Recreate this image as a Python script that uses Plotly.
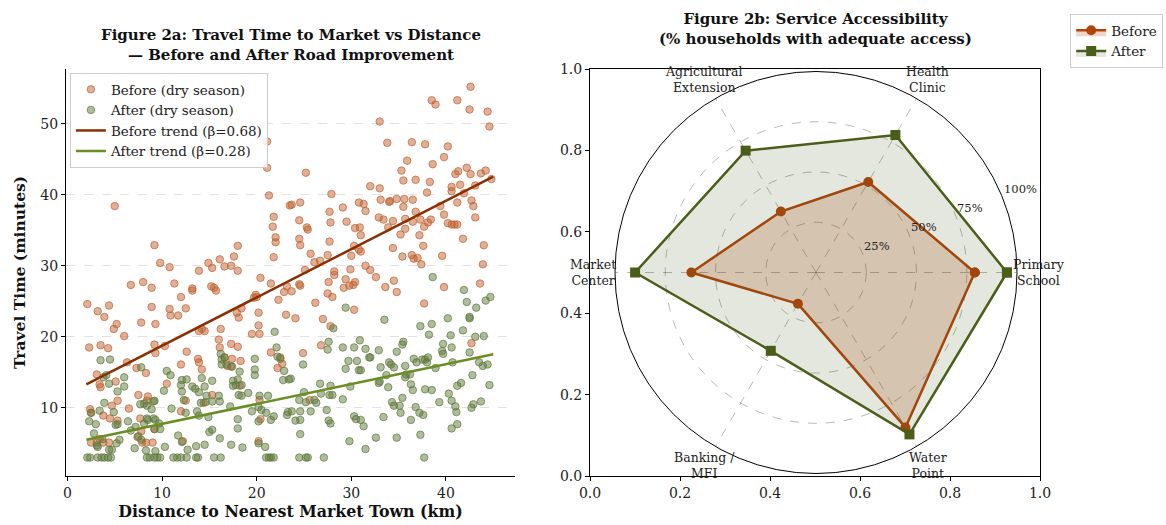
import math
import plotly.graph_objects as go

# ---------------- data: Figure 2a (scatter) ----------------
before_points = [
    (2.1,24.6),(3.2,23.6),(3.9,22.8),(4.4,24.4),(4.9,21.1),(5.2,21.8),(6.0,20.1),(7.8,22.0),(8.9,24.2),(9.3,21.8),
    (2.3,18.5),(3.5,18.8),(4.3,18.4),(3.1,14.7),(3.4,13.3),(3.5,12.9),(5.1,13.7),(6.3,16.4),(7.3,15.6),(8.3,14.9),
    (7.5,11.8),(8.5,11.6),(8.4,11.0),(5.3,11.0),(4.7,10.3),(2.4,9.8),(2.5,9.3),(3.8,8.9),(4.5,8.5),(5.3,8.2),
    (6.5,9.9),(7.7,8.5),(7.8,6.7),(2.5,5.1),(3.1,5.1),(3.4,5.6),(3.8,5.1),(4.4,5.1),(7.4,5.9),(7.9,5.1),
    (8.3,5.1),(9.0,5.1),(9.2,7.0),(10.5,13.4),(10.3,18.7),(9.3,17.7),(9.2,18.9),(10.8,23.9),(10.9,23.0),(11.7,23.0),
    (12.5,24.0),(13.2,26.5),(12.0,25.6),(12.0,16.1),(12.6,17.9),(12.0,9.5),(12.5,11.0),(12.2,5.3),(13.8,16.9),(13.9,16.4),
    (14.2,15.4),(14.4,10.7),(13.9,20.8),(14.2,21.1),(14.5,20.8),(15.5,26.9),(15.7,26.5),(15.2,27.1),(16.2,21.1),(16.0,19.6),
    (16.1,18.5),(15.3,11.8),(16.6,17.1),(16.9,15.9),(17.3,15.8),(17.3,19.0),(18.0,18.6),(17.4,16.9),(18.3,16.6),(18.2,13.1),
    (17.9,23.4),(18.1,22.7),(18.4,24.0),(19.5,20.4),(20.3,20.4),(20.2,21.6),(20.2,23.4),(20.0,25.6),(19.9,25.9),(22.5,17.1),
    (22.7,16.2),(21.5,17.8),(22.2,15.6),(20.2,5.3),(20.4,8.4),(23.2,27.1),(22.9,26.3),(22.3,25.2),(23.1,23.1),(20.3,11.1),
    (5.0,38.4),(9.2,32.9),(9.8,30.4),(10.8,29.8),(11.3,27.5),(6.7,27.3),(8.0,27.7),(8.9,26.9),(13.9,29.3),(14.9,30.4),
    (15.3,29.7),(16.1,30.9),(16.6,29.9),(17.3,30.0),(17.6,31.3),(18.0,32.8),(18.0,29.3),(13.2,26.8),(20.4,28.3),(21.1,47.5),
    (21.1,43.8),(21.3,39.9),(21.8,36.9),(21.7,35.5),(22.0,34.0),(22.0,33.3),(21.8,31.2),(21.5,27.5),(23.5,38.5),(25.2,43.1),
    (24.6,38.9),(23.7,38.6),(24.5,36.4),(25.3,35.4),(25.4,35.1),(24.5,33.8),(24.6,32.9),(25.7,31.7),(25.1,29.4),(24.5,27.4),
    (27.9,40.1),(27.7,37.6),(27.8,36.1),(27.7,33.4),(27.5,31.5),(26.1,30.5),(26.7,30.7),(28.2,29.2),(28.2,28.7),(27.6,27.7),
    (29.1,38.2),(29.5,36.2),(30.4,35.3),(30.9,35.4),(31.0,34.3),(30.8,38.9),(31.3,38.7),(31.5,37.7),(30.3,32.8),(30.8,32.3),
    (31.0,32.0),(30.0,31.4),(29.4,28.1),(29.9,29.5),(29.2,26.9),(29.8,27.2),(30.4,27.7),(31.5,30.0),(32.0,29.4),(32.6,28.4),
    (32.0,41.2),(33.0,40.9),(33.0,50.3),(33.8,47.3),(33.1,39.3),(34.0,39.0),(34.1,39.1),(34.8,39.4),(32.9,36.8),(33.4,36.5),
    (34.4,36.3),(33.9,35.4),(35.2,34.4),(35.7,35.2),(34.4,32.5),(35.4,31.3),(36.4,31.5),(36.6,31.0),(37.0,31.1),(37.4,30.2),
    (33.6,27.0),(34.5,27.9),(35.3,43.4),(35.9,44.8),(35.5,42.0),(36.8,42.1),(36.4,47.4),(35.6,39.4),(36.5,39.3),(35.5,38.3),
    (35.7,36.6),(36.5,36.2),(36.8,37.6),(37.3,36.5),(37.7,35.5),(38.1,36.1),(38.4,36.5),(37.2,34.3),(37.6,32.8),(37.8,47.1),
    (38.6,44.3),(38.3,41.8),(38.0,40.3),(38.5,53.3),(38.9,52.7),(41.2,53.3),(42.6,55.2),(42.5,52.0),(44.4,51.7),(44.6,49.6),
    (40.2,46.8),(39.8,45.3),(39.4,38.4),(39.8,37.2),(40.2,36.0),(40.6,35.8),(40.9,35.8),(41.2,35.8),(40.6,41.1),(40.6,40.5),
    (41.0,42.9),(41.3,43.3),(42.2,43.8),(42.6,42.9),(43.7,43.0),(44.2,43.4),(44.8,42.2),(41.5,41.4),(41.9,40.2),(41.2,38.9),
    (42.7,39.2),(42.9,38.4),(43.1,36.8),(43.1,41.3),(41.8,33.8),(39.6,31.4),(44.0,32.9),(43.9,30.2),(43.6,27.5),(39.8,27.0),
    (24.6,27.2),(23.7,26.4),(30.2,27.3),(27.5,26.1),(28.0,25.6),(26.2,24.8),(34.8,26.3),(37.7,24.7),(24.1,22.6),(27.0,22.5),
    (27.8,21.5),(30.3,23.8),(26.8,18.8),(24.9,17.7),(42.7,19.1),(25.6,11.1),(19.7,25.5),
]
after_points = [
    (2.1,3.0),(2.4,3.0),(3.2,3.0),(3.6,3.0),(3.9,3.0),(4.3,3.0),(4.6,3.0),(8.4,3.0),(8.7,3.0),(9.2,3.0),
    (9.5,3.0),(9.8,3.0),(11.2,3.0),(11.6,3.0),(12.0,3.0),(12.6,3.0),(13.6,3.0),(13.8,3.0),(15.5,3.0),(16.2,3.0),
    (21.0,3.0),(21.3,3.0),(21.5,3.0),(21.8,3.0),(24.5,3.0),(25.2,3.0),(25.4,3.0),(27.1,3.0),(37.7,3.0),
    (3.5,16.7),(4.5,16.8),(4.1,14.6),(4.4,13.4),(3.8,14.3),(6.0,14.3),(6.0,13.0),(5.3,12.3),(3.9,10.7),(3.4,9.6),
    (2.5,9.3),(2.3,8.1),(3.0,7.7),(4.9,9.4),(5.1,7.6),(5.3,7.7),(2.8,6.4),(3.7,5.6),(3.1,4.7),(3.2,4.5),
    (4.4,4.1),(4.7,4.1),(5.2,5.0),(5.5,5.5),(6.4,8.1),(6.7,6.8),(7.2,7.3),(8.1,7.8),(8.5,8.3),(9.1,8.5),
    (9.3,8.3),(9.2,7.0),(9.8,7.0),(9.7,7.8),(7.1,4.3),(7.5,6.0),(7.8,5.5),(8.3,4.0),(9.3,3.9),(7.8,15.7),
    (8.1,10.6),(8.4,10.3),(7.7,10.5),(9.1,10.9),(9.2,11.0),(8.9,9.8),(8.4,8.5),(10.2,12.4),(10.5,15.2),(10.9,14.6),
    (10.3,4.5),(11.0,9.9),(11.7,6.1),(12.1,5.2),(12.1,13.9),(12.0,13.2),(12.6,14.0),(12.1,12.3),(12.3,11.1),(12.5,9.3),
    (12.7,4.1),(13.2,13.0),(13.5,12.7),(13.9,12.2),(14.2,14.2),(14.5,13.0),(14.1,10.7),(14.6,10.8),(14.7,11.7),(13.7,9.5),
    (13.9,8.9),(14.9,8.7),(13.6,4.6),(14.5,4.8),(15.3,13.8),(15.3,10.9),(16.0,11.7),(15.3,6.9),(15.0,6.6),(16.1,5.7),
    (16.2,17.6),(16.3,16.8),(16.6,17.1),(16.3,16.1),(16.8,16.1),(17.4,15.8),(17.5,13.8),(18.0,14.0),(18.2,15.1),(16.1,10.9),
    (17.2,10.2),(17.5,13.1),(17.8,13.2),(18.1,11.8),(18.4,13.2),(18.0,8.4),(18.0,7.1),(17.3,4.8),(18.5,4.4),(19.1,12.1),
    (18.4,11.7),(19.5,9.5),(19.8,15.4),(19.8,14.6),(19.8,16.9),(20.3,11.7),(20.2,10.1),(20.5,9.7),(20.2,8.1),(20.9,4.5),
    (20.2,5.0),(21.0,9.3),(21.2,11.7),(21.5,8.3),(21.8,8.8),(21.9,20.7),(22.1,18.5),(22.2,17.2),(22.5,16.9),(22.8,13.9),
    (23.4,14.0),(22.9,15.2),(23.2,9.0),(23.3,9.4),(23.6,14.1),(24.9,16.1),(25.0,12.2),(24.5,11.1),(25.2,10.8),(25.7,9.5),
    (26.1,11.1),(26.3,10.7),(23.7,9.5),(24.6,9.5),(24.1,8.2),(24.6,8.3),(24.6,6.3),(26.7,13.4),(26.8,12.0),(27.4,9.7),
    (27.6,8.2),(27.8,7.8),(27.7,11.8),(28.0,11.8),(27.8,13.1),(28.1,21.2),(27.6,19.3),(27.5,18.2),(29.4,24.1),(29.1,18.5),
    (29.1,11.2),(29.4,15.5),(29.7,16.6),(29.9,13.0),(29.8,5.3),(30.3,8.8),(30.5,8.4),(31.0,8.3),(31.3,7.4),(31.5,4.2),
    (30.3,18.5),(30.9,19.5),(30.6,16.6),(30.8,15.3),(31.0,15.3),(31.5,18.3),(31.9,17.1),(32.0,17.1),(32.9,18.1),(33.1,15.7),
    (33.0,13.7),(32.9,13.5),(33.5,22.4),(32.6,5.8),(33.4,8.7),(33.9,12.9),(33.7,14.6),(34.0,16.4),(34.2,16.1),(34.5,15.7),
    (34.8,17.9),(35.5,19.3),(35.4,18.9),(34.3,10.8),(34.5,10.3),(35.1,10.3),(35.2,9.3),(35.4,11.4),(34.8,5.8),(35.7,15.9),
    (35.7,14.3),(35.8,14.7),(36.2,14.7),(36.3,13.3),(36.5,12.5),(36.3,8.3),(36.6,16.9),(36.9,16.4),(37.5,16.8),(37.8,16.8),
    (38.1,17.1),(38.0,16.4),(36.8,10.1),(37.2,9.3),(37.6,9.0),(37.3,6.2),(37.8,12.6),(38.5,12.5),(37.3,21.5),(38.5,21.8),
    (38.2,20.3),(38.9,15.6),(39.3,10.8),(39.6,18.0),(39.7,17.6),(39.7,19.0),(40.6,18.5),(40.5,20.2),(40.2,22.6),(40.7,16.4),
    (40.3,12.0),(40.6,11.0),(41.2,13.1),(41.6,13.5),(41.0,10.2),(41.1,9.4),(40.6,7.1),(41.2,7.7),(41.8,20.9),(42.5,22.6),
    (42.5,22.8),(42.2,24.9),(41.9,26.6),(43.2,24.1),(44.2,25.1),(44.7,25.6),(42.5,17.8),(42.8,14.6),(43.1,20.0),(44.0,20.1),
    (43.5,16.4),(43.9,15.9),(44.4,16.1),(44.6,13.2),(43.7,10.9),(42.9,10.5),(42.7,10.0),(38.6,28.4),
]
before_x = [p[0] for p in before_points]
before_y = [p[1] for p in before_points]
after_x = [p[0] for p in after_points]
after_y = [p[1] for p in after_points]

trend_x = [2.0, 45.0]
before_beta, before_intercept = 0.68, 11.94
after_beta, after_intercept = 0.28, 4.94
before_trend_y = [before_intercept + before_beta * x for x in trend_x]
after_trend_y = [after_intercept + after_beta * x for x in trend_x]

# ---------------- data: Figure 2b (radar) ----------------
services = ["Primary<br>School", "Health<br>Clinic", "Agricultural<br>Extension",
            "Market<br>Center", "Banking /<br>MFI", "Water<br>Point"]
service_angles = [0, 60, 120, 180, 240, 300]
radar_before = [0.79, 0.52, 0.35, 0.62, 0.18, 0.89]
radar_after = [0.95, 0.79, 0.70, 0.90, 0.45, 0.93]
radial_ticks = [0.25, 0.5, 0.75, 1.0]
radial_labels = ["25%", "50%", "75%", "100%"]
radial_label_angle = 22.5

FONT = "DejaVu Serif"
C_BEFORE_PT = "192,98,48"
C_AFTER_PT = "96,122,60"

# layout geometry (pixels)
W, H = 1166, 525
ML, MR, MT, MB = 66, 126, 69, 49
PW, PH = W - ML - MR, H - MT - MB
POLAR_CX, POLAR_CY, POLAR_R = 816, 272.5, 201
LABEL_R = 1.11 * POLAR_R


def px_to_paper(px, py):
    return (px - ML) / PW, (H - MB - py) / PH


fig = go.Figure()

fig.add_trace(go.Scatter(
    x=before_x, y=before_y, mode="markers", name="Before (dry season)",
    marker=dict(size=7.5, color=f"rgba({C_BEFORE_PT},0.5)",
                line=dict(width=1, color=f"rgba({C_BEFORE_PT},0.7)")),
    xaxis="x", yaxis="y", legend="legend"))
fig.add_trace(go.Scatter(
    x=after_x, y=after_y, mode="markers", name="After (dry season)",
    marker=dict(size=7.5, color=f"rgba({C_AFTER_PT},0.5)",
                line=dict(width=1, color=f"rgba({C_AFTER_PT},0.7)")),
    xaxis="x", yaxis="y", legend="legend"))
fig.add_trace(go.Scatter(
    x=trend_x, y=before_trend_y, mode="lines", name="Before trend (β=0.68)",
    line=dict(color="#8B2E00", width=2.5), xaxis="x", yaxis="y", legend="legend"))
fig.add_trace(go.Scatter(
    x=trend_x, y=after_trend_y, mode="lines", name="After trend (β=0.28)",
    line=dict(color="#6B8E23", width=2.5), xaxis="x", yaxis="y", legend="legend"))

# invisible trace to anchor the right cartesian frame
fig.add_trace(go.Scatter(x=[0.5], y=[0.5], mode="markers", marker=dict(opacity=0),
                         showlegend=False, hoverinfo="skip", xaxis="x2", yaxis="y2"))

fig.add_trace(go.Scatterpolar(
    r=radar_before + radar_before[:1], theta=service_angles + service_angles[:1],
    mode="lines+markers", name="Before", fill="toself",
    fillcolor="rgba(178,68,10,0.22)",
    line=dict(color="#B2440A", width=2.5),
    marker=dict(symbol="circle", size=10, color="#B2440A"),
    subplot="polar", legend="legend2"))
fig.add_trace(go.Scatterpolar(
    r=radar_after + radar_after[:1], theta=service_angles + service_angles[:1],
    mode="lines+markers", name="After", fill="toself",
    fillcolor="rgba(74,94,26,0.15)",
    line=dict(color="#4A5E1A", width=2.5),
    marker=dict(symbol="square", size=10, color="#4A5E1A"),
    subplot="polar", legend="legend2"))

axis_common = dict(showline=True, linecolor="black", linewidth=1, ticks="outside",
                   ticklen=4, tickcolor="black", zeroline=False, automargin=False,
                   tickfont=dict(family=FONT, size=14, color="#222"))

annotations = []
# category labels around the radar (real text, placed like matplotlib does)
for ang, lab in zip(service_angles, services):
    px = POLAR_CX + LABEL_R * math.cos(math.radians(ang))
    py = POLAR_CY - LABEL_R * math.sin(math.radians(ang))
    ax_, ay_ = px_to_paper(px, py)
    annotations.append(dict(text=lab, x=ax_, y=ay_, xref="paper", yref="paper",
                            xanchor="center", yanchor="middle", showarrow=False,
                            align="center", font=dict(family=FONT, size=12.5, color="#222")))
# radial percentage labels along the 22.5 degree direction
for rv, lab in zip(radial_ticks, radial_labels):
    px = POLAR_CX + rv * POLAR_R * math.cos(math.radians(radial_label_angle))
    py = POLAR_CY - rv * POLAR_R * math.sin(math.radians(radial_label_angle)) - 7
    ax_, ay_ = px_to_paper(px, py)
    annotations.append(dict(text=lab, x=ax_, y=ay_, xref="paper", yref="paper",
                            xanchor="left", yanchor="middle", showarrow=False,
                            font=dict(family=FONT, size=11.5, color="#222")))

annotations += [
    dict(text="<b>Figure 2a: Travel Time to Market vs Distance<br>— Before and After Road Improvement</b>",
         x=0.2305, y=1.058, xref="paper", yref="paper", xanchor="center", yanchor="middle",
         showarrow=False, font=dict(family=FONT, size=15, color="#111")),
    dict(text="<b>Figure 2b: Service Accessibility<br>(% households with adequate access)</b>",
         x=0.769, y=1.099, xref="paper", yref="paper", xanchor="center", yanchor="middle",
         showarrow=False, font=dict(family=FONT, size=15, color="#111")),
]

px0, py0 = px_to_paper(POLAR_CX - POLAR_R, POLAR_CY + POLAR_R)
px1, py1 = px_to_paper(POLAR_CX + POLAR_R, POLAR_CY - POLAR_R)

fig.update_layout(
    width=W, height=H,
    margin=dict(l=ML, r=MR, t=MT, b=MB, autoexpand=False),
    paper_bgcolor="white", plot_bgcolor="white",
    font=dict(family=FONT, size=12, color="#222"),
    xaxis=dict(domain=[0, 0.461], range=[-0.15, 47.3], tickvals=[0, 10, 20, 30, 40],
               showgrid=False, anchor="y",
               title=dict(text="<b>Distance to Nearest Market Town (km)</b>",
                          font=dict(family=FONT, size=15.8, color="#111"), standoff=6),
               **axis_common),
    yaxis=dict(domain=[0, 1], range=[0.4, 57.7], tickvals=[10, 20, 30, 40, 50],
               showgrid=True, gridcolor="#e2e2e2", griddash="dash", gridwidth=1, anchor="x",
               title=dict(text="<b>Travel Time (minutes)</b>",
                          font=dict(family=FONT, size=15.5, color="#111"), standoff=10),
               **axis_common),
    xaxis2=dict(domain=[0.538, 1], range=[0, 1], tickvals=[0, 0.2, 0.4, 0.6, 0.8, 1.0],
                tickformat=".1f", showgrid=False, mirror=True, anchor="y2", **axis_common),
    yaxis2=dict(domain=[0, 1], range=[0, 1], tickvals=[0, 0.2, 0.4, 0.6, 0.8, 1.0],
                tickformat=".1f", showgrid=False, mirror=True, anchor="x2", **axis_common),
    polar=dict(
        domain=dict(x=[px0, px1], y=[py0, py1]),
        bgcolor="rgba(0,0,0,0)",
        angularaxis=dict(rotation=0, direction="counterclockwise", thetaunit="degrees",
                         tickvals=service_angles, ticktext=services, ticks="",
                         showticklabels=False,
                         showline=True, linecolor="black", linewidth=1,
                         gridcolor="rgba(0,0,0,0.28)", griddash="dash"),
        radialaxis=dict(range=[0, 1], tickvals=radial_ticks, showticklabels=False,
                        angle=radial_label_angle, showline=False, ticks="",
                        gridcolor="rgba(0,0,0,0.28)", griddash="dash"),
    ),
    legend=dict(x=0.004, y=0.99, xanchor="left", yanchor="top",
                bgcolor="rgba(255,255,255,0.85)", bordercolor="#cccccc", borderwidth=1,
                font=dict(family=FONT, size=13.5, color="#222"), tracegroupgap=0,
                itemwidth=30),
    legend2=dict(x=1.031, y=1.135, xanchor="left", yanchor="top",
                 bgcolor="rgba(255,255,255,0.85)", bordercolor="#cccccc", borderwidth=1,
                 font=dict(family=FONT, size=13.5, color="#222"), itemwidth=30),
    annotations=annotations,
)

fig.write_html("out.html", config={"displayModeBar": False},
               post_script="document.body.style.margin='0px';document.body.style.overflow='hidden';")
